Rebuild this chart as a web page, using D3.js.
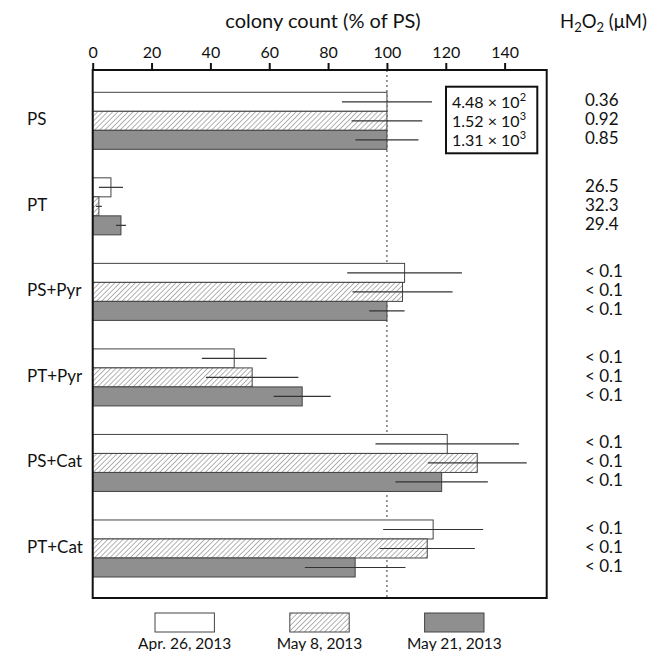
<!DOCTYPE html>
<html>
<head>
<meta charset="utf-8">
<script src="https://cdn.jsdelivr.net/npm/d3@7"></script>
<style>
  body { margin: 0; background: #fff; }
  text { font-family: Lato, "Open Sans", sans-serif; fill: #111; }
</style>
</head>
<body>
<div id="chart"></div>
<script>
// Data
const categories = ["PS", "PT", "PS+Pyr", "PT+Pyr", "PS+Cat", "PT+Cat"];
const dates = ["Apr. 26, 2013", "May 8, 2013", "May 21, 2013"];
const apr26 = [100, 6.2, 106, 48.1, 120.5, 115.7];
const may8 = [100, 2.1, 105.3, 54.2, 130.7, 113.7];
const may21 = [100, 9.6, 100, 71.2, 118.6, 89.2];
const apr26Err = [15.3, 4.1, 19.5, 11, 24.4, 17];
const may8Err = [12, 1, 17, 15.7, 16.8, 16.2];
const may21Err = [10.7, 1.7, 6, 9.7, 15.7, 17.1];
const h2o2Apr26 = ["0.36", "26.5", "< 0.1", "< 0.1", "< 0.1", "< 0.1"];
const h2o2May8 = ["0.92", "32.3", "< 0.1", "< 0.1", "< 0.1", "< 0.1"];
const h2o2May21 = ["0.85", "29.4", "< 0.1", "< 0.1", "< 0.1", "< 0.1"];
const psCounts = [["4.48", "2"], ["1.52", "3"], ["1.31", "3"]];
const xTicks = [0, 20, 40, 60, 80, 100, 120, 140];

const width = 655, height = 651;
const frame = { left: 92.7, right: 546.7, top: 70, bottom: 598 };

const svg = d3.select("#chart").append("svg")
  .attr("width", width)
  .attr("height", height);

// hatch pattern for the May 8 series
const defs = svg.append("defs");
const hatch = defs.append("pattern")
  .attr("id", "hatch")
  .attr("patternUnits", "userSpaceOnUse")
  .attr("width", 3.6)
  .attr("height", 3.6)
  .attr("patternTransform", "rotate(45)");
hatch.append("rect").attr("width", 3.6).attr("height", 3.6).attr("fill", "#fff");
hatch.append("line")
  .attr("x1", 0).attr("y1", 0).attr("x2", 0).attr("y2", 3.6)
  .attr("stroke", "#666").attr("stroke-width", 1);

const fills = ["#ffffff", "url(#hatch)", "#8f8f8f"];

// scales
const x = d3.scaleLinear().domain([0, 154.3]).range([frame.left, frame.right]);
const y = d3.scaleBand().domain(categories).range([92.3, 577]).paddingInner(1 / 3).paddingOuter(0);
const ySub = d3.scaleBand().domain(dates).range([0, y.bandwidth()]);

const series = dates.map((d, i) => ({
  date: d,
  fill: fills[i],
  values: [apr26, may8, may21][i],
  errs: [apr26Err, may8Err, may21Err][i],
  h2o2: [h2o2Apr26, h2o2May8, h2o2May21][i]
}));

const rows = [];
series.forEach(s => {
  categories.forEach((c, j) => {
    rows.push({ cat: c, date: s.date, fill: s.fill, value: s.values[j], err: s.errs[j], h2o2: s.h2o2[j] });
  });
});

// dotted reference line at 100%
svg.append("line")
  .attr("x1", x(100)).attr("x2", x(100))
  .attr("y1", frame.top).attr("y2", frame.bottom)
  .attr("stroke", "#333")
  .attr("stroke-width", 1)
  .attr("stroke-dasharray", "2,3");

// bars
svg.append("g").selectAll("rect")
  .data(rows)
  .enter()
  .append("rect")
  .attr("x", x(0))
  .attr("y", d => y(d.cat) + ySub(d.date))
  .attr("width", d => x(d.value) - x(0))
  .attr("height", ySub.bandwidth())
  .attr("fill", d => d.fill)
  .attr("stroke", "#444")
  .attr("stroke-width", 1);

// error bars (no caps)
svg.append("g").selectAll("line")
  .data(rows)
  .enter()
  .append("line")
  .attr("x1", d => x(d.value - d.err))
  .attr("x2", d => x(d.value + d.err))
  .attr("y1", d => y(d.cat) + ySub(d.date) + ySub.bandwidth() / 2)
  .attr("y2", d => y(d.cat) + ySub(d.date) + ySub.bandwidth() / 2)
  .attr("stroke", "#333")
  .attr("stroke-width", 1.2);

// frame
svg.append("rect")
  .attr("x", frame.left)
  .attr("y", frame.top)
  .attr("width", frame.right - frame.left)
  .attr("height", frame.bottom - frame.top)
  .attr("fill", "none")
  .attr("stroke", "#111")
  .attr("stroke-width", 2);

// top axis
const xAxis = svg.append("g")
  .attr("transform", `translate(0,${frame.top})`)
  .call(d3.axisTop(x).tickValues(xTicks).tickSize(7).tickPadding(5));
xAxis.select(".domain").remove();
xAxis.selectAll(".tick line").attr("stroke", "#111").attr("stroke-width", 2);
xAxis.selectAll(".tick text")
  .attr("font-family", "Lato, 'Open Sans', sans-serif")
  .attr("font-size", 16)
  .attr("fill", "#111");

// axis title
svg.append("text")
  .attr("x", 323)
  .attr("y", 28)
  .attr("text-anchor", "middle")
  .attr("font-size", 20)
  .text("colony count (% of PS)");

// H2O2 header
const hdr = svg.append("text")
  .attr("x", 560)
  .attr("y", 28)
  .attr("font-size", 18.5);
hdr.append("tspan").text("H");
hdr.append("tspan").attr("font-size", 13).attr("dy", 4).text("2");
hdr.append("tspan").attr("dy", -4).text("O");
hdr.append("tspan").attr("font-size", 13).attr("dy", 4).text("2");
hdr.append("tspan").attr("dy", -4).text(" (\u03bcM)");

// category labels
svg.append("g").selectAll("text")
  .data(categories)
  .enter()
  .append("text")
  .attr("x", 27)
  .attr("y", d => y(d) + y.bandwidth() / 2)
  .attr("dominant-baseline", "middle")
  .attr("font-size", 17)
  .text(d => d);

// H2O2 values
svg.append("g").selectAll("text")
  .data(rows)
  .enter()
  .append("text")
  .attr("x", 585)
  .attr("y", d => y(d.cat) + ySub(d.date) + ySub.bandwidth() / 2)
  .attr("dominant-baseline", "middle")
  .attr("font-size", 17)
  .text(d => d.h2o2);

// PS colony counts box
svg.append("rect")
  .attr("x", 446)
  .attr("y", 86.7)
  .attr("width", 91.3)
  .attr("height", 66.6)
  .attr("fill", "#fff")
  .attr("stroke", "#111")
  .attr("stroke-width", 2);
psCounts.forEach((p, i) => {
  const t = svg.append("text")
    .attr("x", 452)
    .attr("y", y("PS") + ySub(dates[i]) + ySub.bandwidth() / 2 + 6)
    .attr("font-size", 16);
  t.append("tspan").text(p[0] + " \u00d7 10");
  t.append("tspan").attr("font-size", 11).attr("dy", -7).text(p[1]);
});

// bottom legend
const legendX = d3.scalePoint().domain(dates).range([184.7, 454.3]);
const lg = svg.append("g").selectAll("g")
  .data(series)
  .enter()
  .append("g")
  .attr("transform", d => `translate(${legendX(d.date)},0)`);
lg.append("rect")
  .attr("x", -29.7)
  .attr("y", 613)
  .attr("width", 59.4)
  .attr("height", 19)
  .attr("fill", d => d.fill)
  .attr("stroke", "#444")
  .attr("stroke-width", 1);
lg.append("text")
  .attr("x", 0)
  .attr("y", 649)
  .attr("text-anchor", "middle")
  .attr("font-size", 15.5)
  .text(d => d.date);
</script>
</body>
</html>
